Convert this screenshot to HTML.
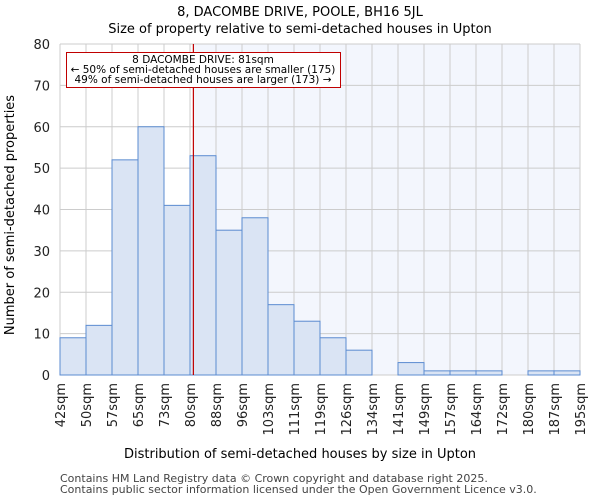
<!DOCTYPE html>
<html><head><meta charset="utf-8"><style>
body{margin:0;background:#fff;font-family:"DejaVu Sans","Liberation Sans",sans-serif}
</style></head><body>
<svg id="c" width="600" height="500" xmlns="http://www.w3.org/2000/svg" font-family="DejaVu Sans, Liberation Sans, sans-serif"></svg>
<script>
const categories=["42sqm","50sqm","57sqm","65sqm","73sqm","80sqm","88sqm","96sqm","103sqm","111sqm","119sqm","126sqm","134sqm","141sqm","149sqm","157sqm","164sqm","172sqm","180sqm","187sqm","195sqm"];
const counts=[9,12,52,60,41,53,35,38,17,13,9,6,0,3,1,1,1,0,1,1];
const yTicks=[0,10,20,30,40,50,60,70,80];
const markerBin=5.13;
const NS="http://www.w3.org/2000/svg";
const svg=document.getElementById('c');
const L=60,R=580,T=44,B=375,yMax=80;
const n=counts.length,bw=(R-L)/n;
const x=i=>L+i*bw;
const y=v=>B-(v/yMax)*(B-T);
function mk(t,a,txt){const e=document.createElementNS(NS,t);for(const k in a)e.setAttribute(k,a[k]);if(txt!==undefined)e.textContent=txt;svg.appendChild(e);return e;}
let e;
e=mk('rect',{x:x(markerBin),y:T,width:R-x(markerBin),height:B-T,fill:'#f3f6fd'});


for(let i=0;i<=n;i++){e=mk('line',{x1:x(i),x2:x(i),y1:T,y2:B,stroke:'#cccccc','stroke-width':1});

}
yTicks.forEach(v=>{e=mk('line',{x1:L,x2:R,y1:y(v),y2:y(v),stroke:'#cccccc','stroke-width':1});


e=mk('text',{x:L-10,y:y(v)+5,'text-anchor':'end','font-size':13,fill:'#222'},v);

});
counts.forEach((v,i)=>{if(v<=0)return;e=mk('rect',{x:x(i),y:y(v),width:bw,height:B-y(v),fill:'#dae4f4',stroke:'#5b8bd0','stroke-width':1});

});
categories.forEach((c,i)=>{e=mk('text',{transform:`translate(${x(i)+5},383) rotate(-90)`,'text-anchor':'end','font-size':13,fill:'#222'},c);

});
e=mk('line',{x1:x(markerBin),x2:x(markerBin),y1:T,y2:B,stroke:'#c00000','stroke-width':1.2});


e=mk('rect',{x:66.5,y:52.5,width:274,height:35,fill:'#fff',stroke:'#c00000','stroke-width':1});


[["8 DACOMBE DRIVE: 81sqm",63],["← 50% of semi-detached houses are smaller (175)",73],["49% of semi-detached houses are larger (173) →",83]].forEach(([t,yy])=>{e=mk('text',{x:203,y:yy,'text-anchor':'middle','font-size':10.5,fill:'#000'},t);

});
e=mk('text',{x:300,y:16,'text-anchor':'middle','font-size':13,fill:'#000'},'8, DACOMBE DRIVE, POOLE, BH16 5JL');


e=mk('text',{x:300,y:33,'text-anchor':'middle','font-size':13,fill:'#000'},'Size of property relative to semi-detached houses in Upton');


e=mk('text',{x:300,y:458,'text-anchor':'middle','font-size':13,fill:'#000'},'Distribution of semi-detached houses by size in Upton');


e=mk('text',{transform:'translate(14,215) rotate(-90)','text-anchor':'middle','font-size':13,fill:'#000'},'Number of semi-detached properties');


e=mk('text',{x:60,y:482,'font-size':11,fill:'#444'},'Contains HM Land Registry data © Crown copyright and database right 2025.');


e=mk('text',{x:60,y:493,'font-size':11,fill:'#444'},'Contains public sector information licensed under the Open Government Licence v3.0.');


</script>
</body></html>
